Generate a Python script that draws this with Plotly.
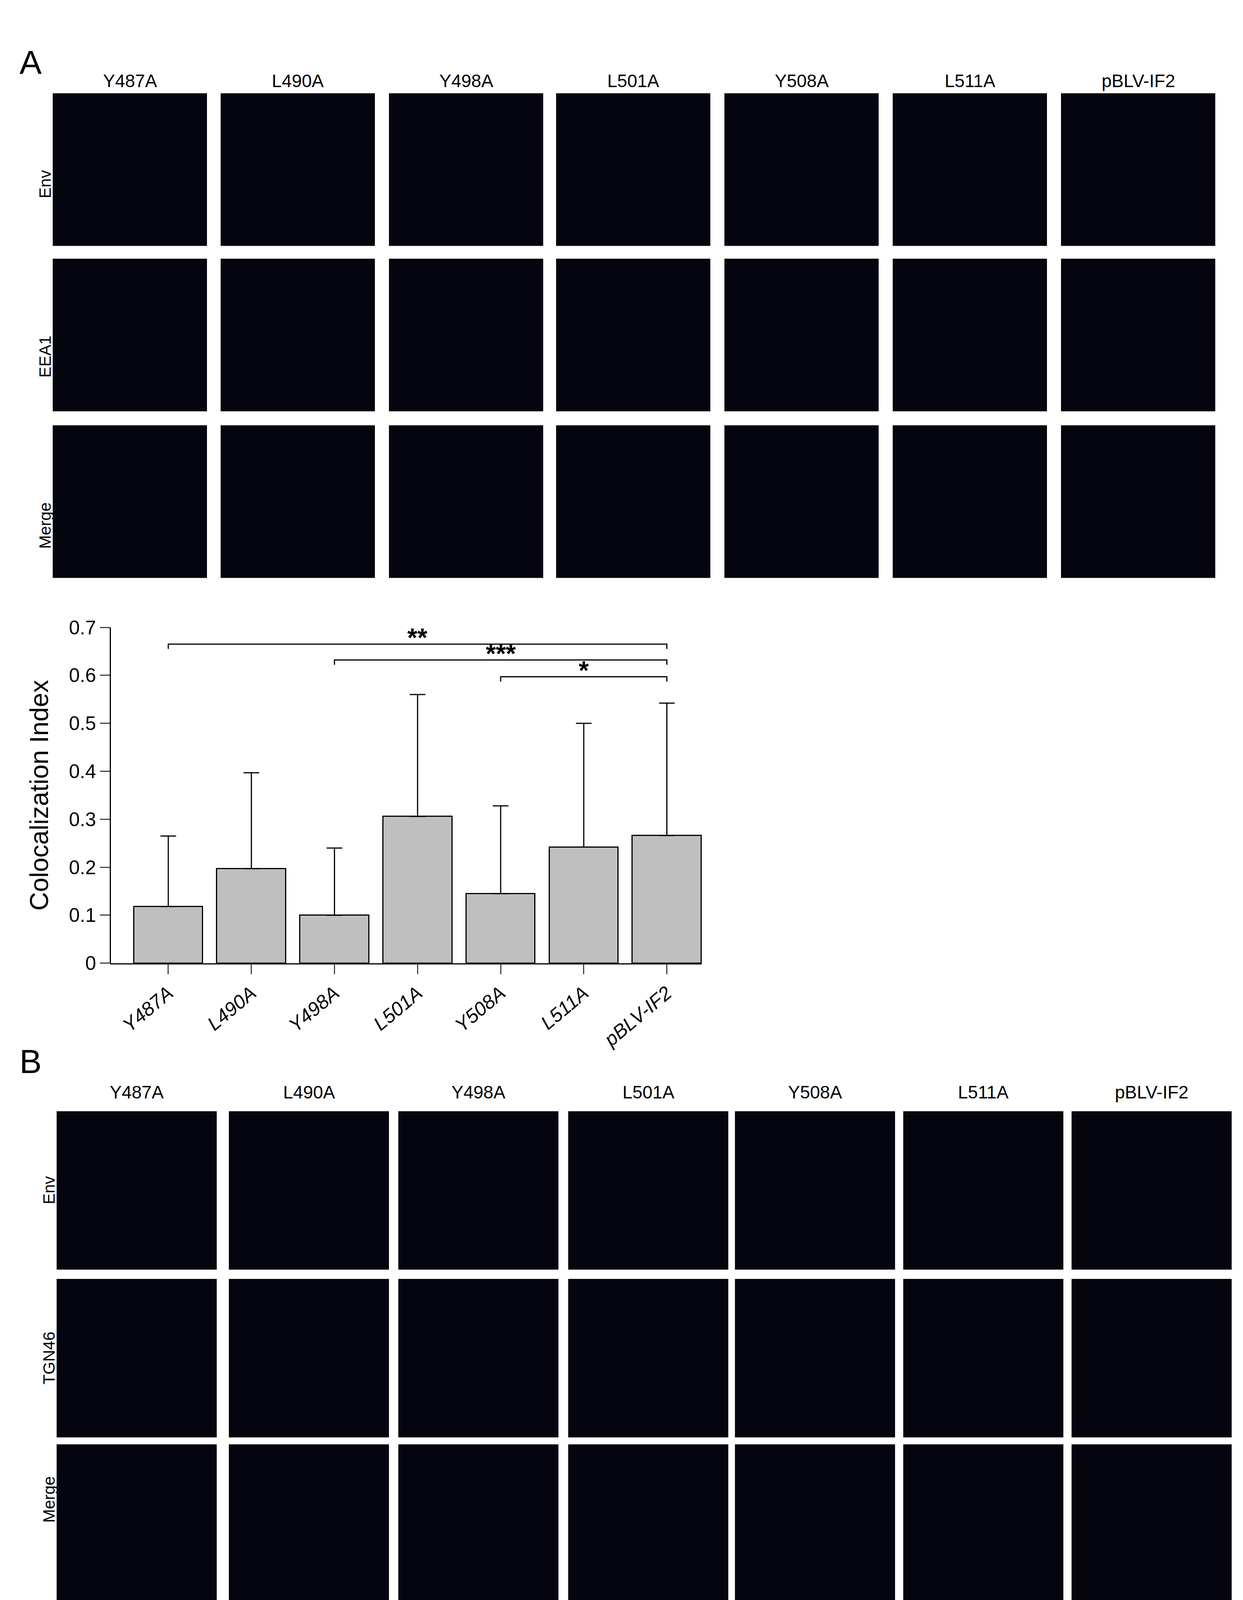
import plotly.graph_objects as go

W, H = 3183, 5339
categories = ["Y487A", "L490A", "Y498A", "L501A", "Y508A", "L511A", "pBLV-IF2"]
eea1_mean = [0.118, 0.197, 0.100, 0.306, 0.145, 0.242, 0.266]
eea1_upper = [0.265, 0.397, 0.240, 0.560, 0.328, 0.500, 0.542]
tgn_mean = [0.088, 0.089, 0.110, 0.089, 0.130, 0.119, 0.118]
tgn_upper = [0.136, 0.152, 0.207, 0.145, 0.238, 0.185, 0.189]
tgn_lower = [0.040, 0.028, 0.015, 0.034, 0.023, 0.053, 0.048]
rows_A = ["Env", "EEA1", "Merge"]
rows_B = ["Env", "TGN46", "Merge"]
sig_pairs = [(0, 6, 0.665, "**"), (2, 6, 0.632, "***"), (4, 6, 0.597, "*")]

FONT = "Liberation Sans, Arial, sans-serif"
px = lambda x: x / W
py = lambda y: 1 - y / H

fig = go.Figure()
xs = list(range(len(categories)))
fig.add_trace(go.Bar(x=xs, y=eea1_mean, width=0.83, marker=dict(color="#bfbfbf", line=dict(color="black", width=3)),
                     error_y=dict(type="data", symmetric=False, array=[u - m for u, m in zip(eea1_upper, eea1_mean)],
                                  arrayminus=[0]*7, color="black", thickness=3, width=20), xaxis="x", yaxis="y"))
fig.add_trace(go.Bar(x=xs, y=tgn_mean, width=0.83, marker=dict(color="#bfbfbf", line=dict(color="#333", width=3)),
                     error_y=dict(type="data", symmetric=False, array=[u - m for u, m in zip(tgn_upper, tgn_mean)],
                                  arrayminus=[m - l for m, l in zip(tgn_mean, tgn_lower)], color="#333", thickness=2.5, width=20),
                     xaxis="x2", yaxis="y2"))

ticktext = ["<i>%s</i>" % c for c in categories]
axcommon = dict(showline=True, linecolor="black", linewidth=3, ticks="outside", ticklen=25, tickwidth=3,
                tickfont=dict(family=FONT, size=50, color="black"), showgrid=False, zeroline=False)
fig.update_layout(
    width=W, height=H, paper_bgcolor="white", plot_bgcolor="white", showlegend=False,
    font=dict(family=FONT, color="black"),
    margin=dict(l=0, r=0, t=0, b=0), bargap=0,
    xaxis=dict(domain=[px(274), px(1789)], range=[-0.7, 6.42], tickvals=xs, ticktext=ticktext, tickangle=-40,
               anchor="y", **axcommon),
    yaxis=dict(domain=[py(2456), py(1587)], range=[0, 0.7], dtick=0.1, tickformat="~g", anchor="free", position=px(274),
               title=dict(text="Colocalization Index", font=dict(family=FONT, size=66, color="black"), standoff=30), **axcommon),
    xaxis2=dict(domain=[px(267), px(1744)], range=[-0.7, 6.42], tickvals=xs, ticktext=ticktext, tickangle=-40,
                anchor="y2", **axcommon),
    yaxis2=dict(domain=[py(5096), py(4278)], range=[0, 0.3], dtick=0.05, tickformat="~g", anchor="free", position=px(267),
                title=dict(text="Colocalization Index", font=dict(family=FONT, size=66, color="black"), standoff=30), **axcommon),
)

shapes, ann = [], []
for a, b, y, s in sig_pairs:
    shapes.append(dict(type="path", xref="x", yref="y", path=f"M {a},{y-0.01} L {a},{y} L {b},{y} L {b},{y-0.01}",
                       line=dict(color="black", width=3)))
    ann.append(dict(x=(a + b) / 2, y=y, xref="x", yref="y", text="<b>%s</b>" % s, showarrow=False, yanchor="bottom", yshift=-22,
                    font=dict(family=FONT, size=66, color="black")))

def panel(cols_x, rows_y, size, rows, title_y):
    for i, c in enumerate(categories):
        x0 = cols_x[i]
        ann.append(dict(x=px(x0 + size / 2), y=py(title_y), xref="paper", yref="paper", text=c, showarrow=False,
                        xanchor="center", font=dict(family=FONT, size=46, color="black")))
        for y0 in rows_y:
            shapes.append(dict(type="rect", xref="paper", yref="paper", x0=px(x0), x1=px(x0 + size),
                               y0=py(y0 + size), y1=py(y0), fillcolor="#05050f", line=dict(width=0)))
    for r, y0 in zip(rows, rows_y):
        ann.append(dict(x=px(cols_x[0] - 45), y=py(y0 + size / 2), xref="paper", yref="paper", text=r, showarrow=False,
                        textangle=-90, font=dict(family=FONT, size=42, color="black")))

panel([127, 557, 988, 1416, 1847, 2278, 2709], [205, 633, 1064], 395, rows_A, 145)
panel([137, 578, 1012, 1447, 1874, 2305, 2736], [2839, 3273, 3701], 410, rows_B, 2790)
ann.append(dict(x=px(40), y=py(75), xref="paper", yref="paper", text="A", showarrow=False,
                font=dict(family=FONT, size=85, color="black")))
ann.append(dict(x=px(40), y=py(2710), xref="paper", yref="paper", text="B", showarrow=False,
                font=dict(family=FONT, size=85, color="black")))
shapes.append(dict(type="line", xref="paper", yref="paper", x0=px(68), x1=px(3130), y0=py(5305), y1=py(5305),
                   line=dict(color="#999", width=3)))
fig.update_layout(shapes=shapes, annotations=ann)
fig.write_html("out.html")
